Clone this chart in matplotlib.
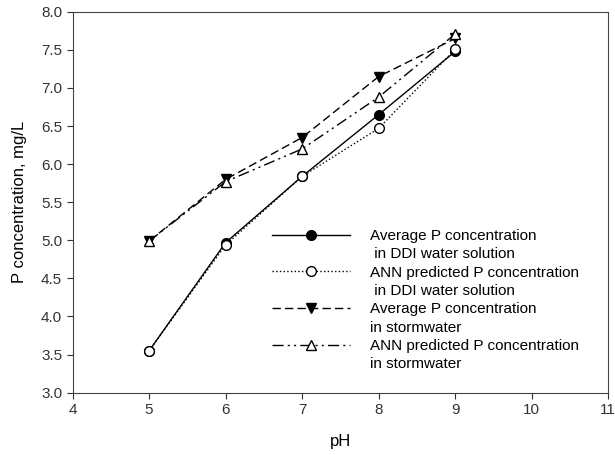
import matplotlib
matplotlib.use("Agg")
from matplotlib import pyplot as plt
from matplotlib.lines import Line2D

plt.rcParams['font.family'] = ['Liberation Sans', 'DejaVu Sans']

# pH values and P concentrations (mg/L)
ph = [5, 6, 7, 8, 9]
avg_ddi = [3.55, 4.97, 5.84, 6.65, 7.48]
ann_ddi = [3.55, 4.94, 5.84, 6.47, 7.51]
avg_storm = [4.99, 5.80, 6.35, 7.15, 7.65]
ann_storm = [4.99, 5.77, 6.20, 6.88, 7.71]

labels = [('Average P concentration', ' in DDI water solution'),
          ('ANN predicted P concentration', ' in DDI water solution'),
          ('Average P concentration', 'in stormwater'),
          ('ANN predicted P concentration', 'in stormwater')]

fig = plt.figure(figsize=(6.15, 4.55), dpi=100)
ax = fig.add_axes([0.118, 0.137, 0.871, 0.837])

ms = 7
l1, = ax.plot(ph, avg_ddi, '-', color='black', lw=1, marker='o', ms=ms,
              mfc='black', mec='black')
l2, = ax.plot(ph, ann_ddi, ':', color='black', lw=1, marker='o', ms=ms,
              mfc='white', mec='black')
l3, = ax.plot(ph, avg_storm, '--', color='black', lw=1, marker='v', ms=ms,
              mfc='black', mec='black', dashes=(6, 3))
l4, = ax.plot(ph, ann_storm, color='black', lw=1, marker='^', ms=ms,
              mfc='white', mec='black', dashes=(8, 3, 1.5, 3, 1.5, 3))

ax.set_xlim(4, 11)
ax.set_ylim(3.0, 8.0)
ax.set_xticks(range(4, 12))
ax.set_yticks([3.0 + 0.5 * i for i in range(11)])
ax.set_yticklabels(['%.1f' % (3.0 + 0.5 * i) for i in range(11)])
ax.tick_params(direction='out', length=4, labelsize=11, colors='#333333')
for s in ax.spines.values():
    s.set_color('#444444')

ax.set_xlabel('pH', fontsize=12, labelpad=12)
ax.set_ylabel('P concentration, mg/L', fontsize=12, labelpad=10)

# legend: handle sits on the first text line of each entry
blank = Line2D([], [], linestyle='none', marker=None)
handles, texts = [], []
for h, (a, b) in zip([l1, l2, l3, l4], labels):
    handles += [h, blank]
    texts += [a, b]
ax.legend(handles, texts, loc='upper left', bbox_to_anchor=(0.347, 0.466),
          frameon=False, fontsize=11, handlelength=5.1, labelspacing=0.285,
          handletextpad=1.3)

plt.savefig('out.png', dpi=100)
